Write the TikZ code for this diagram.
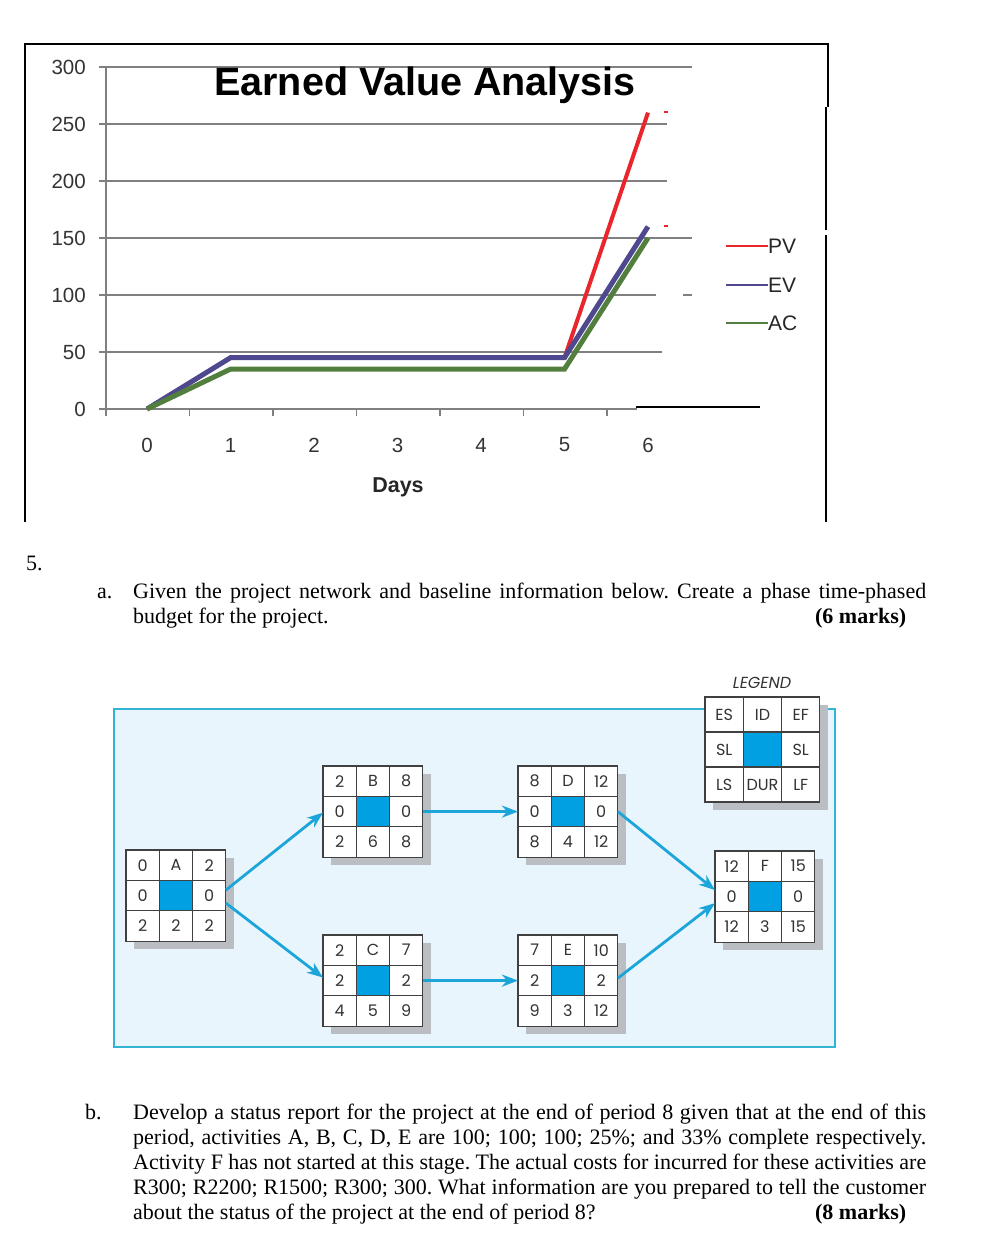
\documentclass[tikz,border=0pt]{standalone}
\usepackage{fontspec}
\setmainfont{Liberation Serif}
\newfontfamily\chartfont{Liberation Sans}
\newfontfamily\netfont{Poppins}
\usetikzlibrary{arrows.meta,calc}
\frenchspacing

\definecolor{pvred}{RGB}{232,38,44}
\definecolor{evblue}{RGB}{78,72,142}
\definecolor{acgreen}{RGB}{82,126,62}
\definecolor{gridgray}{RGB}{128,128,128}
\definecolor{netblue}{RGB}{0,160,226}
\definecolor{arrowblue}{RGB}{28,165,216}
\definecolor{bgblue}{RGB}{233,245,252}
\definecolor{bgline}{RGB}{52,180,212}
\definecolor{shade}{RGB}{186,189,193}

\tikzset{
  framel/.style={black, line width=1.6pt},
  gridln/.style={gridgray, line width=1.3pt},
  axlab/.style={font=\chartfont\fontsize{20.5}{24}\selectfont, text=black!80, inner sep=0pt},
  axtitle/.style={font=\chartfont\bfseries\fontsize{21.5}{24}\selectfont, text=black!85, inner sep=0pt},
  charttitle/.style={font=\chartfont\bfseries\fontsize{39.5}{44}\selectfont, inner sep=0pt},
  pvline/.style={pvred, line width=4pt},
  evline/.style={evblue, line width=5pt},
  acline/.style={acgreen, line width=5pt},
  legtext/.style={font=\chartfont\fontsize{21}{24}\selectfont, text=black!85, inner sep=0pt},
  qtext/.style={font=\fontsize{22}{25}\selectfont, inner sep=0pt},
  netbg/.style={fill=bgblue, draw=bgline, line width=2pt},
  boxshade/.style={fill=shade},
  actnode/.style={fill=white, inner sep=0pt, outer sep=0pt},
  durfill/.style={fill=netblue},
  cellgrid/.style={draw=black!75, line width=1.1pt},
  celltext/.style={font=\netfont\fontsize{16}{18}\selectfont, text=black!80, inner sep=0pt},
  flow/.style={draw=arrowblue, line width=2.8pt, -{Stealth[length=16pt,width=12pt,inset=5pt]}},
}

\newcommand{\netbox}[6]{%
  \fill[boxshade] (#2+8,#3+8) rectangle ++(3*#4,3*#5);
  \node[actnode, anchor=north west, minimum width={3*#4pt}, minimum height={3*#5pt}] (#1) at (#2,#3) {};
  \fill[durfill] ($(#1.north west)+(#4,#5)$) rectangle ++(#4,#5);
  \foreach \lab [count=\i from 0] in {#6} {
    \pgfmathtruncatemacro{\cc}{mod(\i,3)}
    \pgfmathtruncatemacro{\rr}{div(\i,3)}
    \node[celltext] (#1-\i) at ($(#1.north west)+({(\cc+0.5)*#4},{(\rr+0.5)*#5})$) {\lab};
  }
  \draw[cellgrid] (#1.north west) rectangle (#1.south east);
  \foreach \k in {1,2} {
    \draw[cellgrid] ($(#1.north west)+(\k*#4,0)$) -- ++(0,3*#5);
    \draw[cellgrid] ($(#1.north west)+(0,\k*#5)$) -- ++(3*#4,0);
  }
}

\begin{document}
\begin{tikzpicture}[x=1pt,y=-1pt]
\useasboundingbox (0,0) rectangle (1002,1256);
\draw[framel] (25,522) -- (25,44) -- (828,44) -- (828,107);
\draw[framel] (826,107) -- (826,230);
\draw[framel] (826,235) -- (826,522);
\draw[framel] (636,407) -- (760,407);
\foreach \v/\xe in {300/692,250/667,200/667,150/692,100/656,50/662,0/637} {
  \draw[gridln] (99,{409-1.14*\v}) -- (\xe,{409-1.14*\v});
  \node[axlab, anchor=east] (y\v) at (86,{409-1.14*\v}) {\v};
}
\draw[gridln] (683,295) -- (692,295);
\draw[gridln] (106,68) -- (106,416);
\foreach \k in {0,...,6} {
  \draw[gridln] ({106+83.5*\k},409) -- ++(0,7);
  \node[axlab] (x\k) at ({147+83.5*\k},445) {\k};
}
\node[axtitle] (days) at (398,487) {Days};
\node[charttitle] (title) at (425,85) {Earned Value Analysis};
\draw[pvline] (147,409) -- (230.5,357.7) -- (564.5,357.7) -- (648,112.6);
\draw[evline] (147,409) -- (230.5,357.7) -- (564.5,357.7) -- (648,226.6);
\draw[acline] (147,409) -- (230.5,369.1) -- (564.5,369.1) -- (648,238);
\draw[pvred, line width=2.5pt] (664,112) -- (668,112);
\draw[pvred, line width=2.5pt] (664,226) -- (668,226);
\foreach \s/\c/\y in {PV/pvred/246,EV/evblue/285,AC/acgreen/323} {
  \coordinate (key\s) at (726,\y);
  \node[legtext, anchor=west] (leg\s) at (768,\y) {\s};
  \draw[\c, line width=2.5pt] (key\s) -- (leg\s.west);
}

\node[qtext, anchor=base west] (qnum) at (26,570) {5.};
\node[qtext, anchor=base west] (qa) at (97,598) {a.};
\node[qtext, anchor=base west] (qa1) at (133,598) {\makebox[793pt][s]{Given the project network and baseline information below. Create a phase time-phased}};
\node[qtext, anchor=base west] (qa2) at (133,623) {\makebox[773pt][l]{budget for the project.\hfill\textbf{(6 marks)}}};
\node[qtext, anchor=base west] (qb) at (85,1119) {b.};
\node[qtext, anchor=base west] (qb1) at (133,1119) {\makebox[793pt][s]{Develop a status report for the project at the end of period 8 given that at the end of this}};
\node[qtext, anchor=base west] (qb2) at (133,1144) {\makebox[793pt][s]{period, activities A, B, C, D, E are 100; 100; 100; 25\%; and 33\% complete respectively.}};
\node[qtext, anchor=base west] (qb3) at (133,1169) {\makebox[793pt][s]{Activity F has not started at this stage. The actual costs for incurred for these activities are}};
\node[qtext, anchor=base west] (qb4) at (133,1194) {\makebox[793pt][s]{R300; R2200; R1500; R300; 300. What information are you prepared to tell the customer}};
\node[qtext, anchor=base west] (qb5) at (133,1219) {\makebox[773pt][l]{about the status of the project at the end of period 8?\hfill\textbf{(8 marks)}}};

\draw[netbg] (114,709) rectangle (835,1047);
\netbox{A}{126}{850}{33.3}{30.4}{0,A,2,0,{},0,2,2,2}
\netbox{B}{323}{766}{33.3}{30.4}{2,B,8,0,{},0,2,6,8}
\netbox{C}{323}{935}{33.3}{30.4}{2,C,7,2,{},2,4,5,9}
\netbox{D}{518}{766}{33.3}{30.4}{8,D,12,0,{},0,8,4,12}
\netbox{E}{518}{935}{33.3}{30.4}{7,E,10,2,{},2,9,3,12}
\netbox{F}{715}{851}{33.3}{30.4}{12,F,15,0,{},0,12,3,15}
\netbox{LG}{705}{697}{38.3}{35}{ES,ID,EF,SL,{},SL,LS,DUR,LF}
\node[celltext, font=\netfont\itshape\fontsize{16}{18}\selectfont] (legend) at (762,683) {LEGEND};
\draw[flow] ($(A.east)+(0,-5.5)$) -- ($(B.west)+(0,1)$);
\draw[flow] ($(A.east)+(0,7.5)$) -- ($(C.west)+(0,-3)$);
\draw[flow] (B.east) -- (D.west);
\draw[flow] (C.east) -- (E.west);
\draw[flow] (D.east) -- ($(F.west)+(0,-6.5)$);
\draw[flow] ($(E.east)+(0,-2.5)$) -- ($(F.west)+(0,6.5)$);
\end{tikzpicture}
\end{document}
